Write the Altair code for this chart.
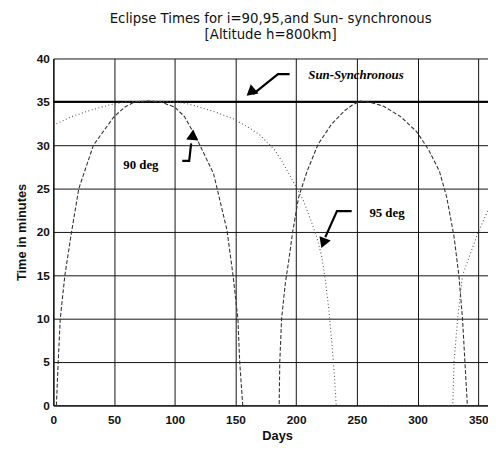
import altair as alt
import pandas as pd

# ---- data ----
days_90 = [2.5, 4, 5.7, 9.5, 15, 21, 33, 50, 59, 67, 78, 88, 100, 108, 118, 132, 143, 148, 152, 153.5, 156,
           186, 186.5, 188, 191, 194, 197, 202, 209, 218, 229, 240, 246, 253, 262, 272, 286, 299, 309, 318, 324, 330, 334, 337, 339, 341, 365]
min_90 = [0, 5, 10, 15, 20, 25, 30, 33.3, 34.4, 35, 35.1, 35, 34.4, 33.3, 30.8, 26.7, 20.2, 15, 10, 5, 0,
          0, 5, 10, 14, 16.8, 19.9, 24, 27, 30.1, 32.4, 34, 34.6, 35.1, 34.9, 34.5, 33.3, 31.6, 29.5, 27, 24, 19.5, 15, 10, 5, 0, 0]

days_95 = [0, 15, 32, 48, 60, 80, 100, 110, 132, 149, 159, 170, 182, 189, 198, 206, 213, 217, 221, 224, 227, 229.5, 231.5, 233,
           329, 330, 333, 337, 350, 358, 365]
min_95 = [32.3, 33.3, 34.1, 34.7, 35, 35.1, 35, 34.8, 33.9, 33, 32.2, 31.2, 29.5, 28, 25.7, 23.6, 21, 19.4, 17.2, 14.5, 11, 7, 3.5, 0,
          0, 5, 10, 15, 20, 22.5, 24]

sun_days = [0, 365]
sun_min = [35, 35]

x_ticks = [0, 50, 100, 150, 200, 250, 300, 350]
y_ticks = [0, 5, 10, 15, 20, 25, 30, 35, 40]

# annotations (data coordinates)
label_text = ["Sun-Synchronous", "90 deg", "95 deg"]
label_day = [210, 57.6, 260.3]
label_min = [38.1, 27.7, 22.2]
label_italic = [True, False, False]

arrow_id = ["sun", "sun", "sun", "d90", "d90", "d90", "d95", "d95", "d95"]
arrow_order = [0, 1, 2, 0, 1, 2, 0, 1, 2]
arrow_day = [194.6, 185, 164.5, 106.2, 111.9, 113.5, 245.7, 233.6, 224.0]
arrow_min = [38.2, 38.2, 35.9, 28.2, 28.2, 30.2, 22.4, 22.4, 19.4]

head_day = [162.5, 114.8, 222.3]
head_min = [36.1, 31.2, 18.7]
head_angle = [230, 5, 201]

# ---- tables ----
curves = pd.concat([
    pd.DataFrame({"day": days_90, "minutes": min_90, "series": "90 deg", "i": range(len(days_90))}),
    pd.DataFrame({"day": days_95, "minutes": min_95, "series": "95 deg", "i": range(len(days_95))}),
])
sun = pd.DataFrame({"day": sun_days, "minutes": sun_min})
labels = pd.DataFrame({"text": label_text, "day": label_day, "minutes": label_min, "italic": label_italic})
arrows = pd.DataFrame({"id": arrow_id, "o": arrow_order, "day": arrow_day, "minutes": arrow_min})
heads = pd.DataFrame({"day": head_day, "minutes": head_min, "angle": head_angle})

FONT = "Liberation Sans"
xs = alt.Scale(domain=[0, 358], nice=False, zero=False)
ys = alt.Scale(domain=[0, 40], nice=False)

x_axis = alt.Axis(values=x_ticks, grid=True, gridColor="#111", gridWidth=1, gridOpacity=1,
                  ticks=False, labelFont=FONT, labelFontSize=12, labelFontWeight="bold",
                  labelColor="#111", labelPadding=9, domainColor="#111", domainWidth=1.3,
                  title="Days", titleFont=FONT, titleFontSize=13, titleFontWeight="bold",
                  titleColor="#111", titlePadding=5, titleX=227, labelFlush=False)
y_axis = alt.Axis(values=y_ticks, grid=True, gridColor="#111", gridWidth=1, gridOpacity=1,
                  ticks=False, labelFont=FONT, labelFontSize=12, labelFontWeight="bold",
                  labelColor="#111", labelPadding=4, domainColor="#111", domainWidth=1.3,
                  title="Time in minutes", titleFont=FONT, titleFontSize=13, titleFontWeight="bold",
                  titleColor="#111", titlePadding=8)

base_x = alt.X("day:Q", scale=xs, axis=x_axis)
base_y = alt.Y("minutes:Q", scale=ys, axis=y_axis)
px = alt.X("day:Q", scale=xs)
py = alt.Y("minutes:Q", scale=ys)

sun_line = alt.Chart(sun).mark_line(color="#000", strokeWidth=2, clip=True).encode(x=base_x, y=base_y)

curve_lines = alt.Chart(curves).mark_line(strokeWidth=1.1, clip=True).encode(
    x=px, y=py,
    detail="series:N",
    order="i:Q",
    color=alt.Color("series:N", scale=alt.Scale(domain=["90 deg", "95 deg"], range=["#333", "#555"]), legend=None),
    strokeDash=alt.StrokeDash("series:N", scale=alt.Scale(domain=["90 deg", "95 deg"], range=[[4, 2], [1, 2.5]]), legend=None),
)

arrow_lines = alt.Chart(arrows).mark_line(color="#000", strokeWidth=2.2).encode(
    x=px, y=py, detail="id:N", order="o:Q")

arrow_heads = alt.Chart(heads).mark_point(shape="triangle-up", filled=True, color="#000", size=150, opacity=1).encode(
    x=px, y=py, angle=alt.Angle("angle:Q", scale=None))

text_italic = alt.Chart(labels).transform_filter("datum.italic").mark_text(
    font="Liberation Serif", fontSize=13, fontWeight="bold", fontStyle="italic",
    align="left", baseline="middle", color="#000").encode(x=px, y=py, text="text:N")
text_plain = alt.Chart(labels).transform_filter("!datum.italic").mark_text(
    font="Liberation Serif", fontSize=13, fontWeight="bold",
    align="left", baseline="middle", color="#000").encode(x=px, y=py, text="text:N")

chart = alt.layer(sun_line, curve_lines, arrow_lines, arrow_heads, text_italic, text_plain).properties(
    width=441, height=352,
    autosize=alt.AutoSizeParams(type="none"),
    padding={"left": 46, "top": 48, "right": 0, "bottom": 42},
    title=alt.TitleParams(["Eclipse Times for i=90,95,and Sun- synchronous", "[Altitude h=800km]"],
                          font="DejaVu Sans", fontSize=13.5, fontWeight="normal", color="#111",
                          anchor="middle", offset=11, lineHeight=17),
).configure_view(stroke=None)

chart.save("out.html", embed_options={"renderer": "svg", "actions": False})
